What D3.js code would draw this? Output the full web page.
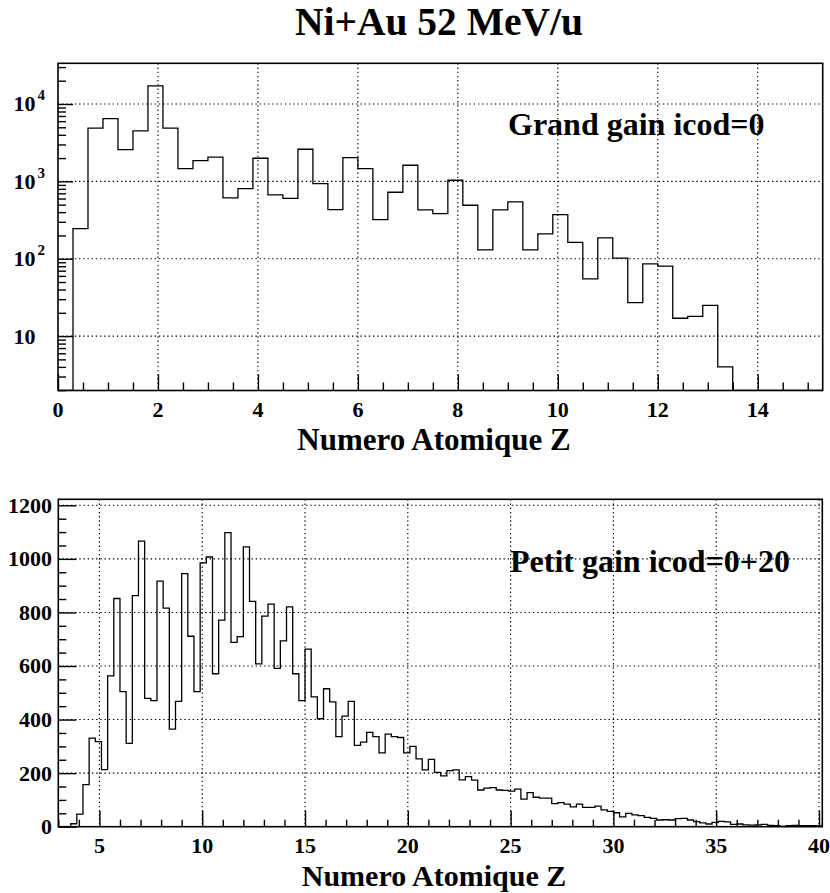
<!DOCTYPE html>
<html>
<head>
<meta charset="utf-8">
<script src="https://cdn.jsdelivr.net/npm/d3@7/dist/d3.min.js"></script>
<style>
  html, body { margin: 0; padding: 0; background: #fff; }
  svg { display: block; }
  text { font-family: "Liberation Serif", "Times New Roman", serif; font-weight: bold; fill: #000; }
</style>
</head>
<body>
<svg id="chart" width="830" height="893"></svg>
<script>
// ---------------- DATA ----------------
const titleText = "Ni+Au 52 MeV/u";
const xTitle = "Numero Atomique Z";

// Top histogram: Grand gain icod=0, bins of 0.3 from 0 to 15.3
const topLabel = "Grand gain icod=0";
const topBinStart = 0;
const topBinWidth = 0.3;
const topCounts = [
  0, 245, 4890, 6460, 2570, 4480, 17100, 4890, 1460, 1850,
  2060, 610, 805, 1990, 667, 604, 2600, 935, 431, 2030,
  1460, 320, 723, 1615, 428, 383, 1033, 491, 130, 427,
  542, 130, 209, 371, 163, 55, 186, 102, 27, 86,
  80, 17, 18, 25, 4, 0, 0, 0, 0, 0, 0
];
const topXTicks = [0, 2, 4, 6, 8, 10, 12, 14];
const topYTicks = [10, 100, 1000, 10000];
const topYTickLabels = [["10", ""], ["10", "2"], ["10", "3"], ["10", "4"]];

// Bottom histogram: Petit gain icod=0+20, bins of 0.3 from 3.0
const botLabel = "Petit gain icod=0+20";
const botBinStart = 3.0;
const botBinWidth = 0.3;
const botCounts = [
  0, 0, 11, 47, 157, 331, 318, 213, 563, 852,
  504, 311, 863, 1066, 479, 471, 917, 816, 364, 468,
  945, 711, 504, 985, 1007, 571, 771, 1098, 688, 710,
  1045, 841, 608, 786, 831, 591, 694, 821, 571, 471,
  663, 485, 403, 515, 466, 336, 413, 468, 304, 316,
  352, 336, 276, 346, 336, 333, 276, 300, 253, 212,
  251, 203, 190, 209, 212, 175, 187, 174, 137, 144,
  146, 137, 136, 133, 140, 103, 127, 110, 107, 107,
  86, 90, 84, 74, 84, 72, 72, 77, 63, 57,
  52, 37, 50, 44, 41, 35, 31, 25, 26, 25,
  30, 31, 25, 19, 14, 10, 16, 20, 18, 9,
  10, 7, 6, 7, 9, 5, 4, 1, 4, 5,
  4, 4, 4, 3
];
const botXTicks = [5, 10, 15, 20, 25, 30, 35, 40];
const botYTicks = [0, 200, 400, 600, 800, 1000, 1200];

// ---------------- DRAWING ----------------
const svg = d3.select("#chart");
const FONT = 22;

svg.append("text")
  .attr("x", 439).attr("y", 35)
  .attr("text-anchor", "middle")
  .attr("font-size", 39.5)
  .text(titleText);

function drawFrame(g, f) {
  g.append("rect")
    .attr("x", f.L).attr("y", f.T)
    .attr("width", f.R - f.L).attr("height", f.B - f.T)
    .attr("fill", "none").attr("stroke", "#000").attr("stroke-width", 1.6);
}

function gridLines(g, f, xs, xVals, ys, yVals) {
  const grid = g.append("g").attr("stroke", "#000").attr("stroke-width", 1.1)
    .attr("stroke-dasharray", "1.4,2.8").attr("fill", "none");
  grid.selectAll("line.gx").data(xVals).join("line")
    .attr("x1", d => xs(d)).attr("x2", d => xs(d))
    .attr("y1", f.T).attr("y2", f.B);
  grid.selectAll("line.gy").data(yVals).join("line")
    .attr("y1", d => ys(d)).attr("y2", d => ys(d))
    .attr("x1", f.L).attr("x2", f.R);
}

function histPath(counts, start, width, xs, ys, base) {
  const pts = [[xs(start), base]];
  counts.forEach((v, i) => {
    const y = v > 0 ? ys(v) : base;
    pts.push([xs(start + i * width), y]);
    pts.push([xs(start + (i + 1) * width), y]);
  });
  pts.push([xs(start + counts.length * width), base]);
  return d3.line()(pts);
}

function tickAxis(g, f, axisGen, transform) {
  const a = g.append("g").attr("transform", transform).call(axisGen);
  a.select(".domain").remove();
  a.selectAll("line").attr("stroke", "#000").attr("stroke-width", 1.4);
  a.selectAll("text").remove();
  return a;
}

// ---------- TOP PLOT ----------
{
  const f = { L: 58, R: 822.7, T: 63.3, B: 390.5 };
  const g = svg.append("g");
  const xs = d3.scaleLinear().domain([0, 15.3]).range([f.L, f.R]);
  const ys = d3.scaleLog().domain([1.98, 33570]).range([f.B, f.T]);

  g.append("clipPath").attr("id", "clipTop").append("rect")
    .attr("x", f.L).attr("y", f.T).attr("width", f.R - f.L).attr("height", f.B - f.T);

  gridLines(g, f, xs, topXTicks.filter(d => d > 0), ys, topYTicks);

  const xMinor = d3.range(0.5, 15.3, 0.5).filter(d => Math.abs(d / 2 - Math.round(d / 2)) > 1e-6);
  tickAxis(g, f, d3.axisBottom(xs).tickValues(xMinor).tickSizeInner(-8).tickSizeOuter(0), `translate(0,${f.B})`);
  tickAxis(g, f, d3.axisBottom(xs).tickValues(topXTicks).tickSizeInner(-16).tickSizeOuter(0), `translate(0,${f.B})`);
  const yMinor = [];
  [1, 10, 100, 1000, 10000].forEach(dec => {
    for (let m = 2; m <= 9; m++) { const v = dec * m; if (v >= 1.98 && v <= 33570) yMinor.push(v); }
  });
  tickAxis(g, f, d3.axisLeft(ys).tickValues(yMinor).tickSizeInner(-8).tickSizeOuter(0), `translate(${f.L},0)`);
  tickAxis(g, f, d3.axisLeft(ys).tickValues(topYTicks).tickSizeInner(-15).tickSizeOuter(0), `translate(${f.L},0)`);

  g.append("path")
    .attr("d", histPath(topCounts, topBinStart, topBinWidth, xs, ys, f.B))
    .attr("fill", "none").attr("stroke", "#000").attr("stroke-width", 1.3)
    .attr("clip-path", "url(#clipTop)");

  drawFrame(g, f);

  g.selectAll("text.xl").data(topXTicks).join("text")
    .attr("x", d => xs(d)).attr("y", 416.5)
    .attr("text-anchor", "middle").attr("font-size", FONT)
    .text(d => d);
  topYTickLabels.forEach((lab, i) => {
    const y = ys(topYTicks[i]) + 7.5;
    g.append("text").attr("x", 35.5).attr("y", y)
      .attr("text-anchor", "end").attr("font-size", FONT).text(lab[0]);
    if (lab[1]) {
      g.append("text").attr("x", 37.5).attr("y", y - 11)
        .attr("font-size", 15).text(lab[1]);
    }
  });

  g.append("text").attr("x", 508).attr("y", 135)
    .attr("font-size", 32).text(topLabel);

  g.append("text").attr("x", 434).attr("y", 450)
    .attr("text-anchor", "middle").attr("font-size", 31).text(xTitle);
}

// ---------- BOTTOM PLOT ----------
{
  const f = { L: 58.3, R: 822.3, T: 499.3, B: 826.7 };
  const g = svg.append("g");
  const xs = d3.scaleLinear().domain([3, 40.16]).range([f.L, f.R]);
  const ys = d3.scaleLinear().domain([0, 1222.4]).range([f.B, f.T]);

  g.append("clipPath").attr("id", "clipBot").append("rect")
    .attr("x", f.L).attr("y", f.T).attr("width", f.R - f.L).attr("height", f.B - f.T);

  gridLines(g, f, xs, botXTicks, ys, botYTicks.filter(d => d > 0));

  const xMinor = d3.range(3, 41, 1).filter(d => d % 5 !== 0 && d <= 40.16);
  tickAxis(g, f, d3.axisBottom(xs).tickValues(xMinor).tickSizeInner(-7).tickSizeOuter(0), `translate(0,${f.B})`);
  tickAxis(g, f, d3.axisBottom(xs).tickValues(botXTicks).tickSizeInner(-16).tickSizeOuter(0), `translate(0,${f.B})`);
  const yMinor = d3.range(50, 1222, 50).filter(d => d % 200 !== 0);
  tickAxis(g, f, d3.axisLeft(ys).tickValues(yMinor).tickSizeInner(-8).tickSizeOuter(0), `translate(${f.L},0)`);
  tickAxis(g, f, d3.axisLeft(ys).tickValues(botYTicks).tickSizeInner(-18).tickSizeOuter(0), `translate(${f.L},0)`);

  g.append("path")
    .attr("d", histPath(botCounts, botBinStart, botBinWidth, xs, ys, f.B))
    .attr("fill", "none").attr("stroke", "#000").attr("stroke-width", 1.3)
    .attr("clip-path", "url(#clipBot)");

  drawFrame(g, f);

  g.selectAll("text.xl").data(botXTicks).join("text")
    .attr("x", d => xs(d)).attr("y", 852.5)
    .attr("text-anchor", "middle").attr("font-size", FONT)
    .text(d => d);
  g.selectAll("text.yl").data(botYTicks).join("text")
    .attr("x", 52).attr("y", d => ys(d) + 7.5)
    .attr("text-anchor", "end").attr("font-size", FONT)
    .text(d => d);

  g.append("text").attr("x", 510).attr("y", 572)
    .attr("font-size", 32).text(botLabel);

  g.append("text").attr("x", 434).attr("y", 885.5)
    .attr("text-anchor", "middle").attr("font-size", 30).text(xTitle);
}
</script>
</body>
</html>
